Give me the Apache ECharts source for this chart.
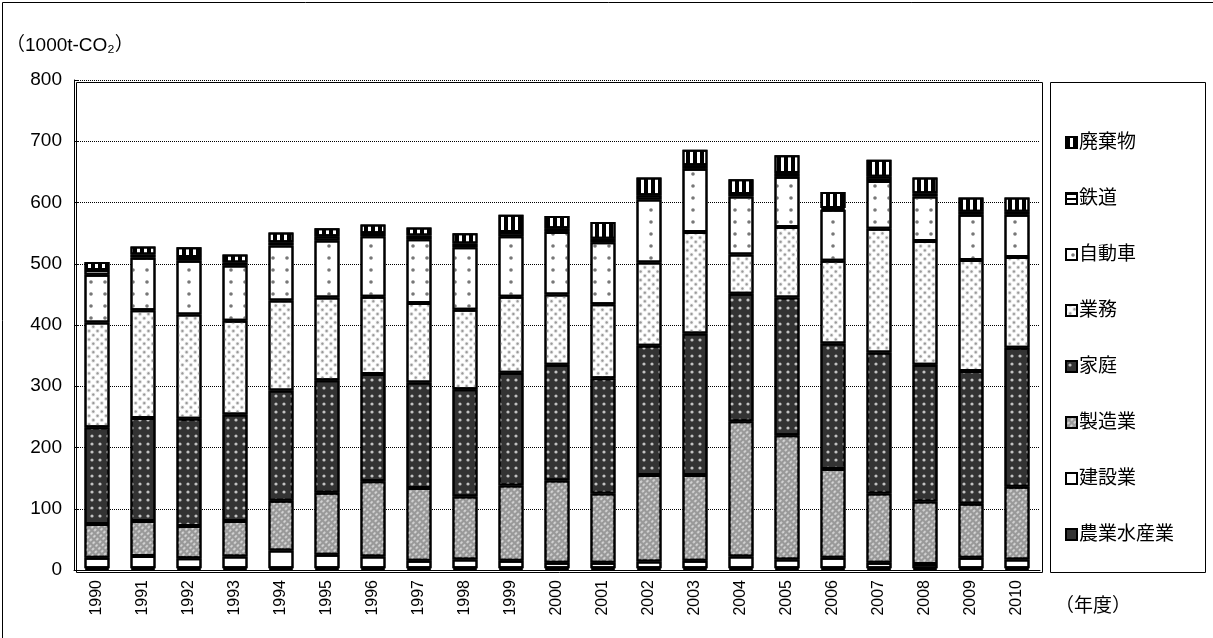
<!DOCTYPE html>
<html lang="ja">
<head>
<meta charset="UTF-8">
<title>CO2</title>
</head>
<body style="margin:0">
<div id="main" style="width:1213px;height:638px;"></div>
<script src="https://cdn.jsdelivr.net/npm/echarts@6/dist/echarts.min.js"></script>
<script>
  var years = ['1990','1991','1992','1993','1994','1995','1996','1997','1998','1999','2000',
    '2001','2002','2003','2004','2005','2006','2007','2008','2009','2010'];
  var agri  = [3,3,3,3,3,3,3,3,3,3,3,3,3,3,3,3,3,3,3,3,3];
  var constr = [17,20,16,19,29,22,19,12,14,12,9,9,11,12,19,14,17,9,7,17,14];
  var manuf = [55,57,53,58,81,101,123,119,103,123,134,113,141,140,221,203,145,113,102,88,119];
  var home  = [158,168,175,174,180,184,175,172,175,184,189,188,211,231,208,225,205,230,223,217,227];
  var office = [171,176,170,153,147,135,126,130,130,124,115,121,136,166,64,115,135,202,202,181,148];
  var car   = [78,86,88,90,90,93,99,104,102,99,102,101,103,103,95,82,83,78,73,74,69];
  var rail  = [8,5,6,5,5,7,5,6,6,7,6,6,7,6,4,6,3,7,5,5,5];
  var waste = [13,13,16,13,16,13,14,13,17,28,20,27,29,25,24,29,26,28,26,23,23];

  var chart = echarts.init(document.getElementById('main'));

  function mk(name, data, color, decal) {
    return {
      name: name, type: 'bar', stack: 'all', data: data, barWidth: 25,
      itemStyle: { color: color, borderColor: '#000', borderWidth: 2, decal: decal }
    };
  }
  var none = { symbol: 'none' };
  var option = {
    animation: false,
    aria: { enabled: true, decal: { show: true } },
    textStyle: { fontFamily: 'Liberation Sans, Noto Sans CJK JP' },
    grid: { left: 74, right: 173, top: 80, bottom: 68 },
    legend: {
      orient: 'vertical', left: 1060, top: 128, itemGap: 37, icon: 'rect',
      itemWidth: 11, itemHeight: 11,
      textStyle: { fontSize: 19, color: '#000', padding: [0, 0, 0, -3] },
      data: ['廃棄物','鉄道','自動車','業務','家庭','製造業','建設業','農業水産業']
    },
    xAxis: {
      type: 'category', data: years,
      axisLine: { lineStyle: { color: '#000' } },
      axisTick: { lineStyle: { color: '#000' } },
      axisLabel: { rotate: 90, color: '#000', fontSize: 16, margin: 10 }
    },
    yAxis: {
      type: 'value', min: 0, max: 800, interval: 100,
      axisLine: { show: true, lineStyle: { color: '#000' } },
      axisTick: { show: true, inside: true, lineStyle: { color: '#000' } },
      axisLabel: { color: '#000', fontSize: 19, margin: 12 },
      splitLine: { lineStyle: { color: '#000', type: 'dotted' } }
    },
    graphic: [
      { type: 'rect', left: 0, top: 0, shape: { width: 1212, height: 637 },
        style: { fill: null, stroke: '#000', lineWidth: 1 } },
      { type: 'rect', left: 1048, top: 80, shape: { width: 155, height: 490 },
        style: { fill: null, stroke: '#000', lineWidth: 1 } },
      { type: 'rect', left: 74, top: 80, shape: { width: 966, height: 490 },
        style: { fill: null, stroke: '#000', lineWidth: 1 } },
      { type: 'text', left: 6, top: 36,
        style: { text: '（1000t-CO₂）', fill: '#000', font: '19px Liberation Sans, Noto Sans CJK JP' } },
      { type: 'text', left: 1055, top: 597,
        style: { text: '（年度）', fill: '#000', font: '19px Liberation Sans, Noto Sans CJK JP' } }
    ],
    series: [
      mk('農業水産業', agri, '#333', none),
      mk('建設業', constr, '#fff', none),
      mk('製造業', manuf, '#999', { symbol: 'rect', symbolSize: 0.5, color: 'rgba(255,255,255,0.6)', dashArrayX: [5, 0], dashArrayY: [4, 0] }),
      mk('家庭', home, '#333', { symbol: 'circle', symbolSize: 0.4, color: 'rgba(255,255,255,0.7)', dashArrayX: [8, 0], dashArrayY: [8, 0] }),
      mk('業務', office, '#fff', { symbol: 'circle', symbolSize: 0.5, color: '#999', dashArrayX: [6, 0], dashArrayY: [6, 0] }),
      mk('自動車', car, '#fff', { symbol: 'circle', symbolSize: 0.3, color: '#777', dashArrayX: [14, 0], dashArrayY: [12, 0] }),
      mk('鉄道', rail, '#fff', { symbol: 'rect', symbolSize: 1, color: '#000', dashArrayX: [1, 0], dashArrayY: [2, 3], rotation: 0 }),
      mk('廃棄物', waste, '#fff', { symbol: 'rect', symbolSize: 1, color: '#000', dashArrayX: [4, 3], dashArrayY: [1, 0] })
    ]
  };
  chart.setOption(option);
</script>
</body>
</html>
